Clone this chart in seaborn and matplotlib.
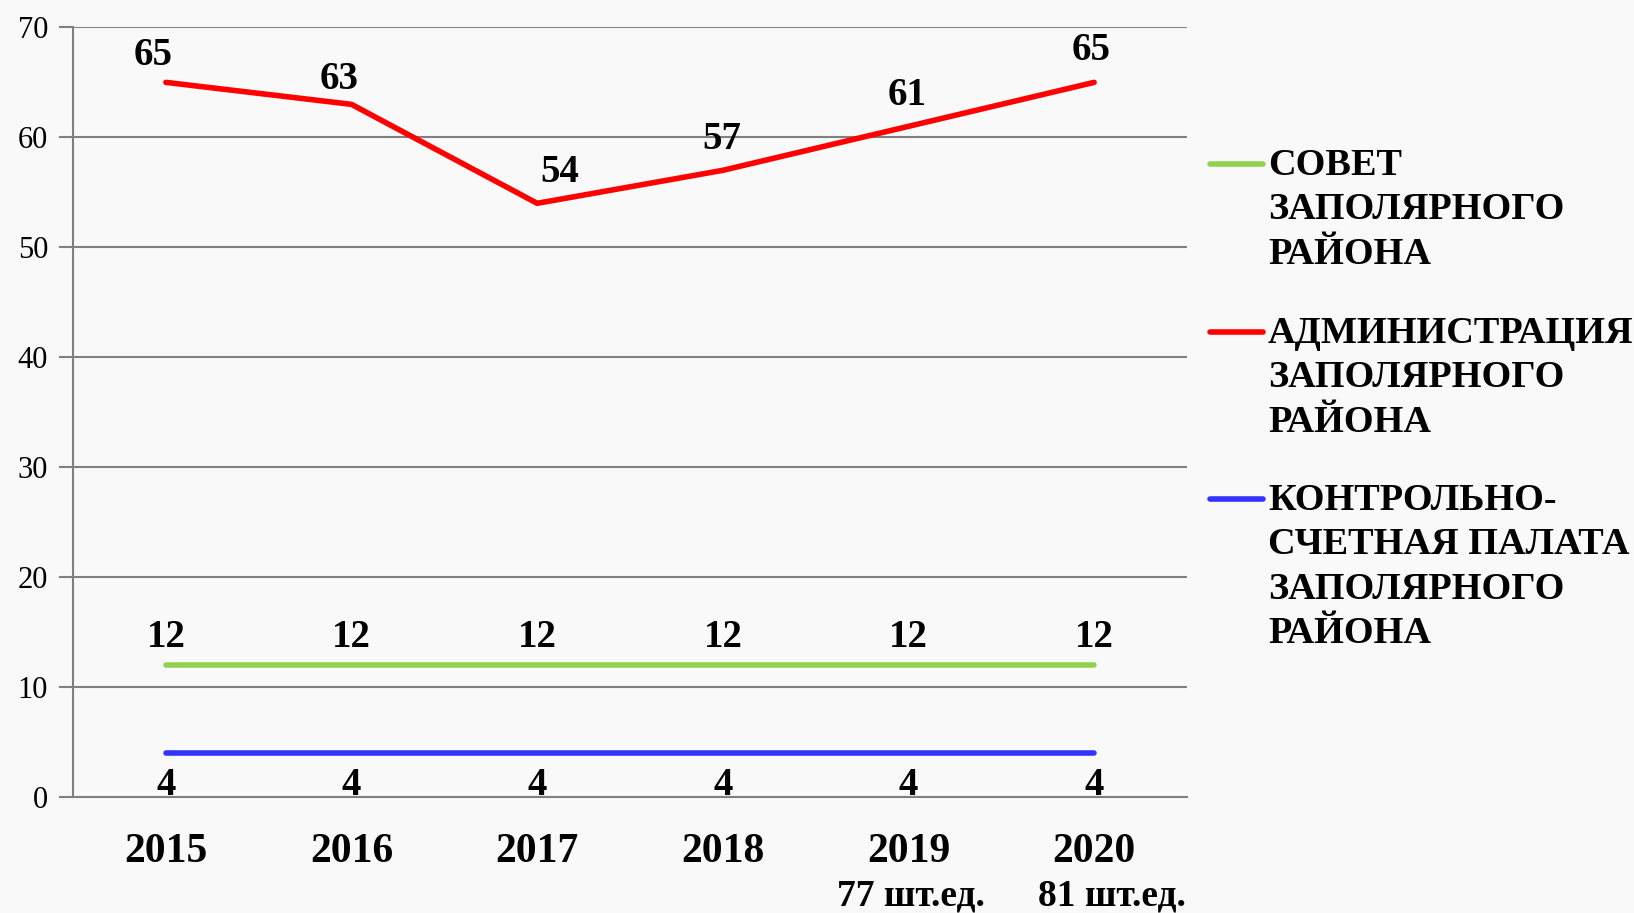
import pandas as pd
import matplotlib.pyplot as plt
import seaborn as sns
from matplotlib.lines import Line2D

years = ["2015", "2016", "2017", "2018", "2019", "2020"]
totals = ["", "", "", "", "77 шт.ед.", "81 шт.ед."]
sovet = [12, 12, 12, 12, 12, 12]
admin = [65, 63, 54, 57, 61, 65]
ksp = [4, 4, 4, 4, 4, 4]
names = ["СОВЕТ\nЗАПОЛЯРНОГО\nРАЙОНА",
         "АДМИНИСТРАЦИЯ\nЗАПОЛЯРНОГО\nРАЙОНА",
         "КОНТРОЛЬНО-\nСЧЕТНАЯ ПАЛАТА\nЗАПОЛЯРНОГО\nРАЙОНА"]
colors = ["#92d050", "#ff0000", "#3333ff"]

# label nudges (points), as in the original
admin_dx = [-9, -9, 16, -1, -1, -2]
admin_dy = [19, 18, 22, 22, 22, 23]
totals_dx = [0, 0, 0, 0, 2, 13]

rows = []
for name, vals in zip(names, [sovet, admin, ksp]):
    for i, v in enumerate(vals):
        rows.append({"x": i, "value": v, "series": name})
df = pd.DataFrame(rows)

sns.set_style("white")
plt.rcParams["font.family"] = ["Liberation Serif", "DejaVu Serif"]
plt.rcParams["text.color"] = "black"
plt.rcParams["xtick.color"] = "black"
plt.rcParams["ytick.color"] = "black"

fig = plt.figure(figsize=(16.34, 9.13), dpi=100)
fig.patch.set_facecolor("#f9f9f9")
ax = fig.add_axes([0.0447, 0.127, 0.6817, 0.843])
ax.set_facecolor("#f9f9f9")

sns.lineplot(data=df, x="x", y="value", hue="series", hue_order=names,
             palette=colors, linewidth=4, legend=False, ax=ax,
             solid_capstyle="round")

ax.set_xlim(-0.5, 5.5)
ax.set_ylim(0, 70)
ax.set_yticks(range(0, 71, 10))
ax.yaxis.grid(True, color="#808080", linewidth=1.5)
ax.set_axisbelow(True)
for s in ["top", "right"]:
    ax.spines[s].set_visible(False)
for s in ["left", "bottom"]:
    ax.spines[s].set_color("#808080")
    ax.spines[s].set_linewidth(1.5)

ax.set_xticks(range(len(years)))
ax.set_xticklabels(years, fontsize=30, fontweight="bold")
ax.set_xticks([i - 0.5 for i in range(len(years) + 1)], minor=True)
ax.tick_params(axis="x", which="major", length=0, pad=26)
ax.tick_params(axis="x", which="minor", length=12, width=1.5, color="#808080", direction="out")
ax.tick_params(axis="y", length=10, width=1.5, color="#808080", labelcolor="black",
               labelsize=22, pad=8, left=True)
ax.set_xlabel("")
ax.set_ylabel("")

for i, t in enumerate(totals):
    if t:
        ax.annotate(t, (i, 0), xytext=(totals_dx[i], -71), textcoords="offset points",
                    ha="center", va="center", fontsize=27, fontweight="bold",
                    annotation_clip=False)

for i in range(len(years)):
    ax.annotate(str(admin[i]), (i, admin[i]), xytext=(admin_dx[i], admin_dy[i]),
                textcoords="offset points", ha="center", va="center",
                fontsize=28, fontweight="bold")
    ax.annotate(str(sovet[i]), (i, sovet[i]), xytext=(0, 20), textcoords="offset points",
                ha="center", va="center", fontsize=28, fontweight="bold")
    ax.annotate(str(ksp[i]), (i, ksp[i]), xytext=(0, -23), textcoords="offset points",
                ha="center", va="center", fontsize=28, fontweight="bold")

# legend drawn by hand so the line sits at the first text row
leg_y = [164, 332, 499]
for name, c, y in zip(names, colors, leg_y):
    fy = 1 - y / 913
    fig.add_artist(Line2D([1210 / 1634, 1263 / 1634], [fy, fy], color=c,
                          linewidth=4, solid_capstyle="round"))
    fig.text(1268 / 1634, fy + 16 / 913, name, ha="left", va="top",
             fontsize=27.5, fontweight="bold", linespacing=1.35)

fig.savefig("out.png", dpi=100, facecolor=fig.get_facecolor())
